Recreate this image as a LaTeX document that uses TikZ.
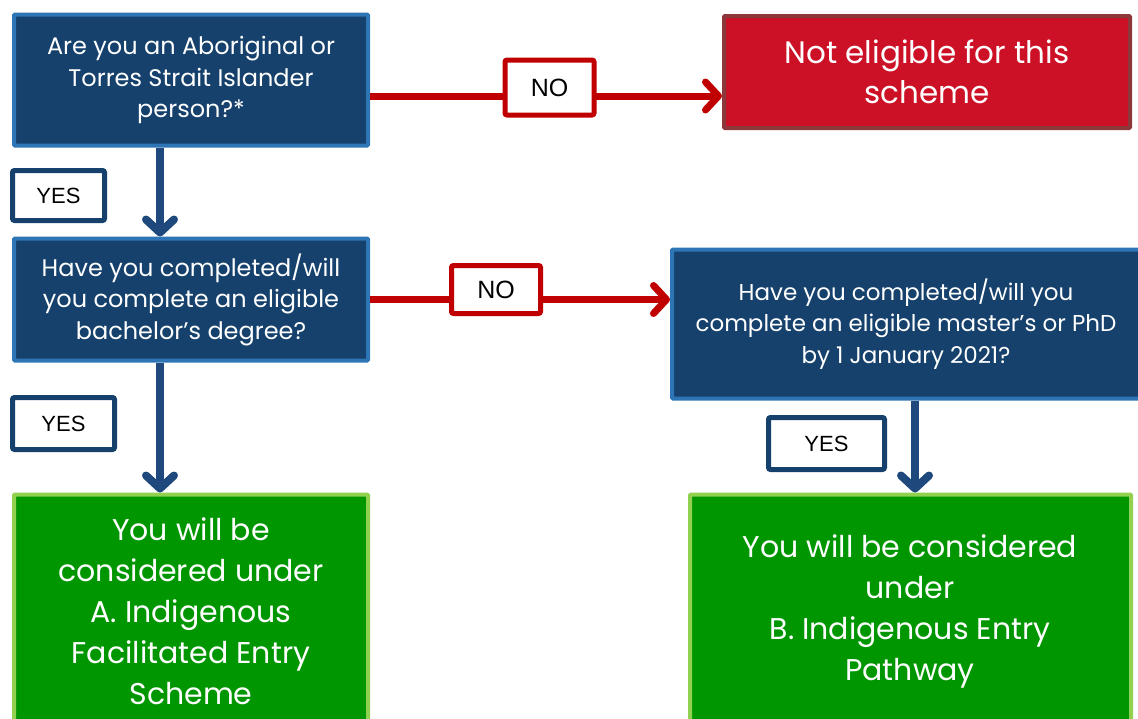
\documentclass[tikz,border=0pt]{standalone}
\usepackage{fontspec}
\setmainfont{Poppins}
\newfontfamily\labelfont{Liberation Sans}
\usetikzlibrary{positioning,arrows.meta}

\definecolor{qfill}{HTML}{15416C}
\definecolor{qline}{HTML}{2E75B6}
\definecolor{arrowblue}{HTML}{1F497D}
\definecolor{arrowred}{HTML}{C00000}
\definecolor{nofill}{HTML}{CC1026}
\definecolor{noline}{HTML}{8C383A}
\definecolor{okfill}{HTML}{009600}
\definecolor{okline}{HTML}{92D050}

\begin{document}
\begin{tikzpicture}[x=1pt, y=-1pt, node distance=90pt]

        % Styles for nodes
        \tikzstyle{question} = [draw=qline, fill=qfill, line width=4pt, rounded corners=1pt, text=white, align=center, font=\fontsize{24}{31.5}\selectfont]
        \tikzstyle{notok} = [draw=noline, fill=nofill, line width=4pt, rounded corners=1pt, text=white, align=center, font=\fontsize{31}{40}\selectfont]
        \tikzstyle{result} = [draw=okline, fill=okfill, line width=4pt, rounded corners=1pt]
        \tikzstyle{resulttext} = [text=white, align=center, font=\fontsize{30}{41}\selectfont]
        \tikzstyle{yesbox} = [draw=qfill, fill=white, line width=5pt, rounded corners=2pt, inner sep=0pt, font=\labelfont\fontsize{22}{26}\selectfont]
        \tikzstyle{nobox} = [draw=arrowred, fill=white, line width=5pt, rounded corners=2pt, inner sep=0pt, font=\labelfont\fontsize{25}{30}\selectfont]
        \tikzstyle{downline} = [arrowblue, line width=8pt, -{Straight Barb[round, length=13pt, width=28pt]}]
        \tikzstyle{sideline} = [arrowred, line width=7pt, -{Straight Barb[round, length=13pt, width=28pt]}]

        \useasboundingbox (0,0) rectangle (1138,718);
        \clip (0,0) rectangle (1138,718);

        % Nodes
        \node[question, minimum width=354pt, minimum height=131pt] (q1) at (191,80) {Are you an Aboriginal or\\Torres Strait Islander\\person?*};
        \node[notok, minimum width=406pt, minimum height=112pt] (notelig) [right=352pt of q1, yshift=8pt] {Not eligible for this\\scheme};
        \node[question, minimum width=354pt, minimum height=122pt] (q2) [below=89pt of q1] {Have you completed/will\\you complete an eligible\\bachelor’s degree?};
        \node[question, minimum width=468pt, minimum height=149pt, font=\fontsize{23}{31.5}\selectfont] (q3) [right=300pt of q2, yshift=-24.5pt] {Have you completed/will you\\complete an eligible master’s or PhD\\by 1 January 2021?};
        \node[result, minimum width=354pt, minimum height=240pt, anchor=north] (resA) [below=130pt of q2] {};
        \node[result, minimum width=441pt, minimum height=240pt, anchor=north] (resB) [below=92pt of q3, xshift=4.5pt] {};
        \node[resulttext] (textA) at (191,611) {You will be\\considered under\\A. Indigenous\\Facilitated Entry\\Scheme};
        \node[resulttext] (textB) at (910,611) {You will be considered\\under\\B. Indigenous Entry\\Pathway};

        % Arrows
        \draw[sideline] ([yshift=-16pt]q1.east) -- ([yshift=-16pt]q1.east -| notelig.west);
        \draw[sideline] (q2.east) -- (q2.east -| q3.west);
        \draw[downline] ([xshift=-31pt]q1.south) -- ([xshift=-31pt]q2.north);
        \draw[downline] ([xshift=-31pt]q2.south) -- ([xshift=-31pt]resA.north);
        \draw[downline] ([xshift=9pt]q3.south) -- ([xshift=9pt]q3.south |- resB.north);

        % Labels
        \node[nobox, minimum width=89pt, minimum height=55pt] (noA) at (549.5,87.5) {NO};
        \node[nobox, minimum width=89pt, minimum height=48pt] (noB) at (496,289.5) {NO};
        \node[yesbox, minimum width=92pt, minimum height=50pt] (yesA) at (58.5,195.5) {YES};
        \node[yesbox, minimum width=102pt, minimum height=52pt] (yesB) at (63.5,423.5) {YES};
        \node[yesbox, minimum width=116pt, minimum height=52pt] (yesC) at (826.5,443.5) {YES};

\end{tikzpicture}
\end{document}
